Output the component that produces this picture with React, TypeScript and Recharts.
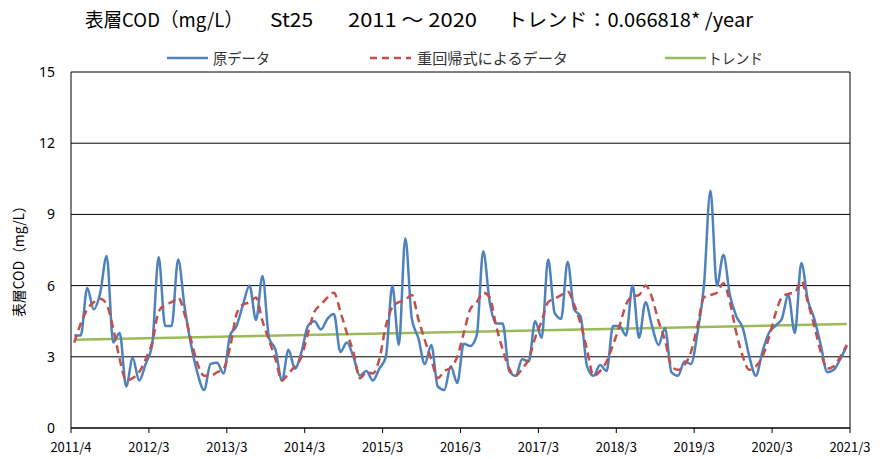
import { LineChart, Line, XAxis, YAxis, CartesianGrid, ReferenceLine } from 'recharts'

const X_LABELS = ['2011/4', '2012/3', '2013/3', '2014/3', '2015/3', '2016/3', '2017/3', '2018/3', '2019/3', '2020/3', '2021/3']
const Y_TICKS = [0, 3, 6, 9, 12, 15]

// 原データ, monthly 2011/4 .. 2021/3
const RAW = [
  3.9, 3.9, 5.9, 5.0, 5.7, 7.25, 3.6, 4.0, 1.75, 2.95, 2.0, 2.7,
  3.5, 7.2, 4.3, 4.3, 7.1, 5.1, 3.5, 2.3, 1.6, 2.7, 2.75, 2.3,
  3.9, 4.3, 5.2, 6.0, 4.55, 6.4, 3.8, 3.3, 2.0, 3.3, 2.5, 3.2,
  4.3, 4.5, 4.15, 4.6, 4.8, 3.2, 3.6, 3.0, 2.2, 2.4, 2.0, 2.5,
  3.0, 6.0, 3.5, 8.0, 4.6, 3.8, 2.7, 3.5, 1.75, 1.6, 2.6, 1.9,
  3.55, 3.45, 3.9, 7.45, 5.3, 4.4, 4.4, 2.4, 2.2, 2.9, 2.8, 4.5,
  3.8, 7.1, 4.85, 4.6, 7.0, 5.0, 4.7, 2.6, 2.2, 2.65, 2.4, 4.3,
  4.3, 3.9, 6.0, 3.8, 5.3, 4.3, 3.5, 4.2, 2.35, 2.2, 2.8, 2.7,
  4.0, 6.0, 10.0, 6.0, 7.3, 5.6, 4.7, 4.2, 3.0, 2.2, 3.2, 4.0,
  4.3, 4.6, 5.6, 4.0, 6.95, 5.4, 4.6, 3.5, 2.35, 2.45, 2.9, 3.45,
]

// 重回帰式によるデータ
const REGRESSION = [
  3.6, 4.4, 5.0, 5.3, 5.45, 5.2, 4.2, 2.9, 2.0, 2.1, 2.35, 2.9,
  3.6, 4.9, 5.2, 5.3, 5.5, 4.8, 3.7, 2.7, 2.2, 2.2, 2.35, 2.5,
  3.4, 4.8, 5.2, 5.3, 5.5, 4.5, 3.7, 2.9, 2.0, 2.3, 2.6, 3.0,
  4.0, 4.9, 5.2, 5.5, 5.7, 4.9, 4.0, 3.2, 2.1, 2.35, 2.3, 2.9,
  4.3, 5.1, 5.3, 5.4, 5.6, 4.6, 3.7, 2.9, 2.1, 2.4, 2.55, 3.0,
  4.0, 5.0, 5.3, 5.7, 5.5, 4.3, 3.3, 2.5, 2.2, 2.5, 2.9, 3.8,
  4.5, 5.3, 5.45, 5.6, 5.75, 5.2, 4.4, 3.3, 2.2, 2.4, 2.8, 3.5,
  4.3, 5.2, 5.55, 5.6, 6.0, 5.5, 4.5, 3.7, 2.6, 2.45, 2.65, 3.2,
  4.3, 5.5, 5.6, 5.7, 6.1, 5.3, 4.0, 3.0, 2.45, 2.6, 3.0, 3.8,
  4.8, 5.5, 5.65, 5.7, 6.2, 5.3, 4.3, 3.2, 2.5, 2.6, 3.0, 3.5,
]

// トレンド: first and last month
const TREND_ENDS = [3.72, 4.38]

const BLUE = '#4F81BD'
const RED = '#C0504D'
const GREEN = '#9BBB59'
const FONT = '"Noto Sans CJK JP", "Noto Sans", sans-serif'

const rows = RAW.map((v, i) => ({
  x: i + 0.5,
  raw: v,
  reg: REGRESSION[i],
  trend: i === 0 ? TREND_ENDS[0] : i === RAW.length - 1 ? TREND_ENDS[1] : null,
}))

const xTicks = X_LABELS.map((_, i) => i * 12)

const legendItems = [
  { label: '原データ', color: BLUE, dash: undefined, x: 167, tx: 213, tw: 57 },
  { label: '重回帰式によるデータ', color: RED, dash: '7 5', x: 370, tx: 417, tw: 151 },
  { label: 'トレンド', color: GREEN, dash: undefined, x: 665, tx: 708, tw: 55 },
]

const titleParts = [
  { text: '表層COD（mg/L）', x: 85, w: 158 },
  { text: 'St25', x: 270, w: 43 },
  { text: '2011 ～ 2020', x: 348, w: 129 },
  { text: 'トレンド：0.066818* /year', x: 507, w: 246 },
]

export default function App() {
  return (
    <div style={{ position: 'absolute', left: 0, top: 0, width: 880, height: 459, background: '#fff', fontFamily: FONT }}>
      <div style={{ position: 'absolute', left: 0, top: 0 }}>
        <LineChart width={880} height={459} data={rows} margin={{ top: 72, right: 30, bottom: 0, left: 0 }}>
          <CartesianGrid vertical={false} stroke="#000" strokeWidth={1} />
          <XAxis
            dataKey="x"
            type="number"
            domain={[0, 120]}
            ticks={xTicks}
            interval={0}
            tickFormatter={(v: number) => X_LABELS[v / 12]}
            height={31}
            tickSize={5}
            tickMargin={10}
            stroke="#000"
            tick={{ fill: '#000', fontSize: 13, fontFamily: FONT }}
          />
          <YAxis
            domain={[0, 15]}
            ticks={Y_TICKS}
            interval={0}
            width={71}
            tickLine={false}
            tickSize={0}
            tickMargin={16}
            stroke="#000"
            tick={{ fill: '#000', fontSize: 14, fontFamily: '"Noto Sans", sans-serif' }}
          />
          <ReferenceLine x={120} stroke="#000" strokeWidth={1} />
          <Line type="monotone" dataKey="trend" stroke={GREEN} strokeWidth={2.5} dot={false} connectNulls isAnimationActive={false} />
          <Line type="monotone" dataKey="raw" stroke={BLUE} strokeWidth={2.5} dot={false} isAnimationActive={false} />
          <Line type="monotone" dataKey="reg" stroke={RED} strokeWidth={2.5} strokeDasharray="8 5" dot={false} isAnimationActive={false} />
        </LineChart>
      </div>

      {/* title, legend and y-axis title */}
      <svg width={880} height={459} style={{ position: 'absolute', left: 0, top: 0, pointerEvents: 'none' }}>
        {titleParts.map(p => (
          <text key={p.text} x={p.x} y={27} fontSize={19} fill="#000" textLength={p.w} lengthAdjust="spacingAndGlyphs">
            {p.text}
          </text>
        ))}
        {legendItems.map(it => (
          <g key={it.label}>
            <line x1={it.x} y1={58} x2={it.x + 41} y2={58} stroke={it.color} strokeWidth={2.5} strokeDasharray={it.dash} />
            <text x={it.tx} y={63.5} fontSize={15} fill="#333" textLength={it.tw} lengthAdjust="spacingAndGlyphs">
              {it.label}
            </text>
          </g>
        ))}
        <text x={24} y={258} fontSize={14} fill="#000" textAnchor="middle" transform="rotate(-90 24 258)" textLength={118} lengthAdjust="spacingAndGlyphs">
          表層COD（mg/L）
        </text>
      </svg>
    </div>
  )
}
